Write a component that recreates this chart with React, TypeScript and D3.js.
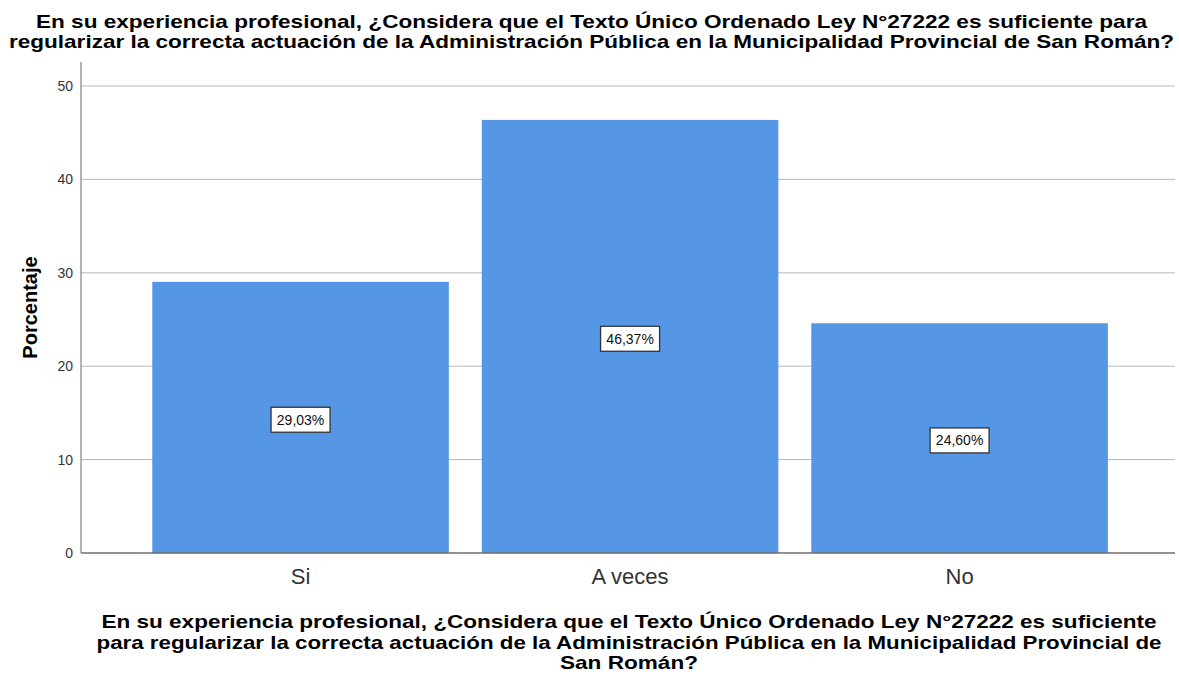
import * as d3 from 'd3';
import React, { useEffect, useRef } from 'react';

const categories = ['Si', 'A veces', 'No'];
const percentages = [29.03, 46.37, 24.6];
const valueLabels = ['29,03%', '46,37%', '24,60%'];
const yTicks = [0, 10, 20, 30, 40, 50];

const titleLines = [
  'En su experiencia profesional, ¿Considera que el Texto Único Ordenado Ley N°27222 es suficiente para',
  'regularizar la correcta actuación de la Administración Pública en la Municipalidad Provincial de San Román?',
];
const xTitleLines = [
  'En su experiencia profesional, ¿Considera que el Texto Único Ordenado Ley N°27222 es suficiente',
  'para regularizar la correcta actuación de la Administración Pública en la Municipalidad Provincial de',
  'San Román?',
];

const WIDTH = 1179;
const HEIGHT = 678;
const FONT = '"Liberation Sans", Arial, sans-serif';

// measured text widths in the original render (wider than Liberation at same size)
const titleLengths = [1111, 1165];
const xTitleLengths = [1055, 1065, 138];

export default function App() {
  const svgRef = useRef<SVGSVGElement | null>(null);

  useEffect(() => {
    if (!svgRef.current) return;
    const svg = d3.select(svgRef.current);
    svg.selectAll('*').remove();

    const left = 81;
    const right = 1175;
    const top = 62;
    const bottom = 553;

    const x = d3
      .scaleBand<string>()
      .domain(categories)
      .range([left, right])
      .paddingInner(0.1)
      .paddingOuter(0.21)
      .align(0.515);

    const y = d3
      .scaleLinear()
      .domain([0, 50])
      .range([bottom, 86]);

    // grid lines
    svg.append('g')
      .selectAll('line')
      .data(yTicks.filter((t) => t > 0))
      .enter()
      .append('line')
      .attr('x1', left)
      .attr('x2', right)
      .attr('y1', (d) => y(d))
      .attr('y2', (d) => y(d))
      .attr('stroke', '#b8b8b8')
      .attr('stroke-width', 1);

    // bars
    svg.append('g')
      .selectAll('rect')
      .data(percentages)
      .enter()
      .append('rect')
      .attr('x', (d, i) => x(categories[i])!)
      .attr('y', (d) => y(d))
      .attr('width', x.bandwidth())
      .attr('height', (d) => bottom - y(d))
      .attr('fill', '#5596e5');

    // axes
    svg.append('line')
      .attr('x1', left).attr('x2', left)
      .attr('y1', top).attr('y2', bottom)
      .attr('stroke', '#8a8a8a').attr('stroke-width', 1.3);
    svg.append('line')
      .attr('x1', left).attr('x2', right)
      .attr('y1', bottom).attr('y2', bottom)
      .attr('stroke', '#6e6e6e').attr('stroke-width', 1.3);

    // y tick labels
    svg.append('g')
      .selectAll('text')
      .data(yTicks)
      .enter()
      .append('text')
      .attr('x', left - 8)
      .attr('y', (d) => y(d))
      .attr('dy', '0.35em')
      .attr('text-anchor', 'end')
      .style('font-family', FONT)
      .style('font-size', '14px')
      .style('fill', '#333')
      .text((d) => d);

    // x tick labels
    svg.append('g')
      .selectAll('text')
      .data(categories)
      .enter()
      .append('text')
      .attr('x', (d) => x(d)! + x.bandwidth() / 2)
      .attr('y', bottom + 31)
      .attr('text-anchor', 'middle')
      .style('font-family', FONT)
      .style('font-size', '22px')
      .style('fill', '#333')
      .text((d) => d);

    // value labels
    const labels = svg.append('g')
      .selectAll('g')
      .data(percentages)
      .enter()
      .append('g')
      .attr('transform', (d, i) => `translate(${x(categories[i])! + x.bandwidth() / 2},${(y(d) + bottom) / 2 + 2.3})`);
    labels.append('rect')
      .attr('x', -29.5)
      .attr('y', -12.5)
      .attr('width', 59)
      .attr('height', 25)
      .attr('fill', '#fff')
      .attr('stroke', '#333')
      .attr('stroke-width', 1.3);
    labels.append('text')
      .attr('text-anchor', 'middle')
      .attr('dy', '0.36em')
      .style('font-family', FONT)
      .style('font-size', '14px')
      .style('fill', '#111')
      .text((d, i) => valueLabels[i]);

    // y axis title
    svg.append('text')
      .attr('transform', `translate(37,${(top + bottom) / 2}) rotate(-90)`)
      .attr('text-anchor', 'middle')
      .style('font-family', FONT)
      .style('font-size', '20px')
      .style('font-weight', 'bold')
      .style('fill', '#000')
      .text('Porcentaje');

    // chart title
    svg.append('g')
      .selectAll('text')
      .data(titleLines)
      .enter()
      .append('text')
      .attr('x', 591.5)
      .attr('y', (d, i) => 27.5 + i * 20.5)
      .attr('text-anchor', 'middle')
      .attr('textLength', (d, i) => titleLengths[i])
      .attr('lengthAdjust', 'spacingAndGlyphs')
      .style('font-family', FONT)
      .style('font-size', '19px')
      .style('font-weight', 'bold')
      .style('fill', '#000')
      .text((d) => d);

    // x axis title
    svg.append('g')
      .selectAll('text')
      .data(xTitleLines)
      .enter()
      .append('text')
      .attr('x', 629)
      .attr('y', (d, i) => 628 + i * 20.5)
      .attr('text-anchor', 'middle')
      .attr('textLength', (d, i) => xTitleLengths[i])
      .attr('lengthAdjust', 'spacingAndGlyphs')
      .style('font-family', FONT)
      .style('font-size', '19px')
      .style('font-weight', 'bold')
      .style('fill', '#000')
      .text((d) => d);
  }, []);

  return (
    <svg
      ref={svgRef}
      width={WIDTH}
      height={HEIGHT}
      style={{ position: 'absolute', top: 0, left: 0, background: '#fff' }}
    />
  );
}
